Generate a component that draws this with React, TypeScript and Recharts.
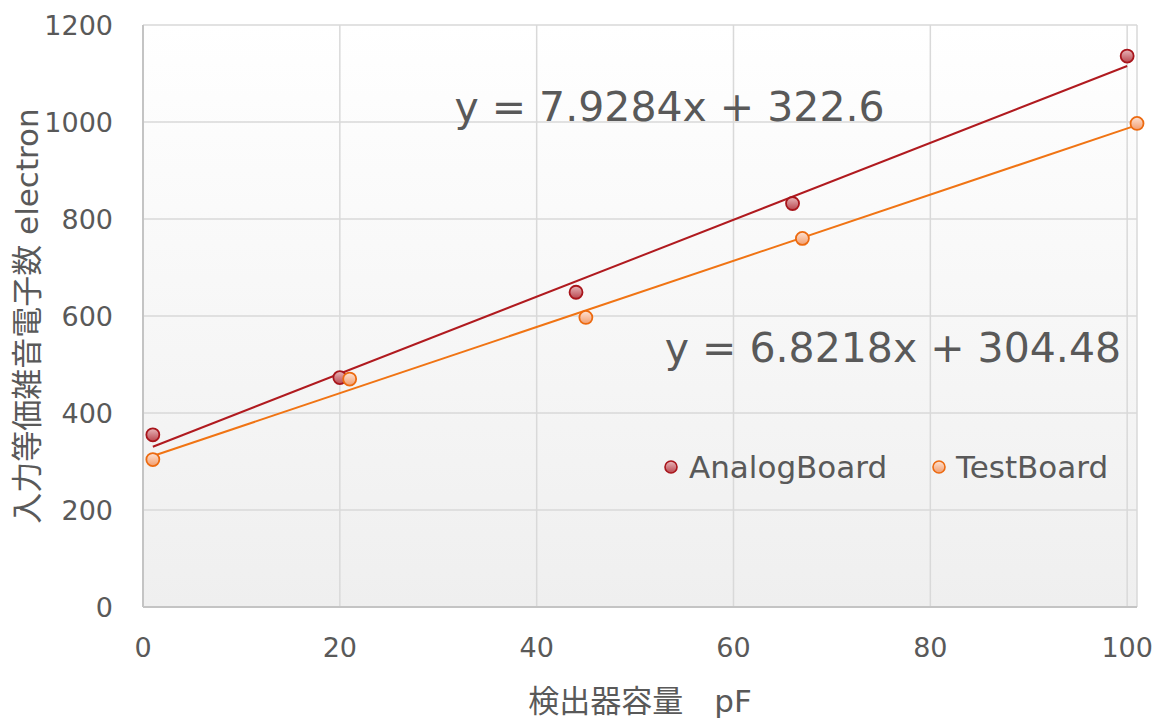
import React from 'react';
import {
  ScatterChart,
  Scatter,
  XAxis,
  YAxis,
  CartesianGrid,
  ReferenceLine,
  ReferenceDot,
  Legend,
  Label,
} from 'recharts';

// ---- data ----
const analogX = [1, 20, 44, 66, 100];
const analogY = [355, 473, 649, 832, 1136];
const testX = [1, 21, 45, 67, 101];
const testY = [304, 470, 597, 760, 997];

const xTicks = [0, 20, 40, 60, 80, 100];
const yTicks = [0, 200, 400, 600, 800, 1000, 1200];

// trendline coefficients shown on the chart
const analogSlope = 7.9284;
const analogIntercept = 322.6;
const testSlope = 6.8218;
const testIntercept = 304.48;

const analogName = 'AnalogBoard';
const testName = 'TestBoard';
const analogEq = 'y = 7.9284x + 322.6';
const testEq = 'y = 6.8218x + 304.48';
const xTitle = '検出器容量　pF';
const yTitle = '入力等価雑音電子数 electron';

const FONT = "'DejaVu Sans', 'Noto Sans CJK JP', sans-serif";
const TEXT = '#595959';
const RED = '#A8151B';
const RED_LINE = '#B01A1F';
const ORANGE = '#EC6A10';
const ORANGE_LINE = '#F07414';

const analogData = analogX.map((x, i) => ({ x, y: analogY[i] }));
const testData = testX.map((x, i) => ({ x, y: testY[i] }));

const fitEnds = (xs: number[], slope: number, intercept: number) => {
  const x0 = Math.min(...xs);
  const x1 = Math.max(...xs);
  return [
    { x: x0, y: slope * x0 + intercept },
    { x: x1, y: slope * x1 + intercept },
  ];
};

const AnalogDot = (props: any) => (
  <circle cx={props.cx} cy={props.cy} r={6.5} fill="url(#gradAnalog)" stroke={RED} strokeWidth={1.8} />
);
const TestDot = (props: any) => (
  <circle cx={props.cx} cy={props.cy} r={6.5} fill="url(#gradTest)" stroke={ORANGE} strokeWidth={1.8} />
);

const LegendContent = () => (
  <div style={{ display: 'flex', alignItems: 'center', height: 34, fontFamily: FONT, fontSize: 31, color: TEXT }}>
    <div style={{ display: 'flex', alignItems: 'center', width: 268 }}>
      <svg width={18} height={18}>
        <defs>
          <linearGradient id="lgA" x1="0" y1="0" x2="0" y2="1">
            <stop offset="0%" stopColor="#E8B8BB" />
            <stop offset="100%" stopColor="#B9464E" />
          </linearGradient>
        </defs>
        <circle cx={9} cy={9} r={6} fill="url(#lgA)" stroke={RED} strokeWidth={1.6} />
      </svg>
      <span style={{ marginLeft: 9, whiteSpace: 'nowrap' }}>{analogName}</span>
    </div>
    <div style={{ display: 'flex', alignItems: 'center' }}>
      <svg width={18} height={18}>
        <defs>
          <linearGradient id="lgT" x1="0" y1="0" x2="0" y2="1">
            <stop offset="0%" stopColor="#FDE3D5" />
            <stop offset="100%" stopColor="#F29C6C" />
          </linearGradient>
        </defs>
        <circle cx={9} cy={9} r={6} fill="url(#lgT)" stroke={ORANGE} strokeWidth={1.6} />
      </svg>
      <span style={{ marginLeft: 8, whiteSpace: 'nowrap' }}>{testName}</span>
    </div>
  </div>
);

const YTitle = () => (
  <text
    x={27}
    y={316}
    transform="rotate(-90 27 316)"
    textAnchor="middle"
    dominantBaseline="central"
    fontFamily={FONT}
    fontSize={31}
    fill={TEXT}
  >
    {yTitle}
  </text>
);

export default function App() {
  return (
    <div style={{ position: 'absolute', left: 0, top: 0, width: 1157, height: 720, background: '#fff' }}>
      <ScatterChart width={1157} height={720} margin={{ top: 25, right: 20, bottom: 0, left: 0 }}>
        <defs>
          <linearGradient id="plotBg" x1="0" y1="0" x2="0" y2="1">
            <stop offset="0%" stopColor="#FFFFFF" />
            <stop offset="100%" stopColor="#EFEFEF" />
          </linearGradient>
          <linearGradient id="gradAnalog" x1="0" y1="0" x2="0" y2="1">
            <stop offset="0%" stopColor="#E8B8BB" />
            <stop offset="100%" stopColor="#B9464E" />
          </linearGradient>
          <linearGradient id="gradTest" x1="0" y1="0" x2="0" y2="1">
            <stop offset="0%" stopColor="#FDE3D5" />
            <stop offset="100%" stopColor="#F29C6C" />
          </linearGradient>
        </defs>
        <CartesianGrid stroke="#D9D9D9" strokeWidth={1.5} fill="url(#plotBg)" fillOpacity={1} />
        <XAxis
          type="number"
          dataKey="x"
          domain={[0, 101]}
          ticks={xTicks}
          height={113}
          tickSize={0}
          tickMargin={31}
          tickLine={false}
          axisLine={{ stroke: '#C4C4C4', strokeWidth: 2 }}
          tick={{ fill: TEXT, fontSize: 27, fontFamily: FONT }}
        >
          <Label value={xTitle} position="insideBottom" offset={8} fill={TEXT} fontSize={31} fontFamily={FONT} />
        </XAxis>
        <YAxis
          type="number"
          dataKey="y"
          domain={[0, 1200]}
          ticks={yTicks}
          width={143}
          tickSize={0}
          tickMargin={30}
          tickLine={false}
          axisLine={{ stroke: '#C4C4C4', strokeWidth: 2 }}
          tick={{ fill: TEXT, fontSize: 27, fontFamily: FONT }}
        >
          <Label content={<YTitle />} />
        </YAxis>
        <Scatter name={analogName} data={analogData} shape={<AnalogDot />} isAnimationActive={false} />
        <Scatter name={testName} data={testData} shape={<TestDot />} isAnimationActive={false} />
        <ReferenceLine
          segment={fitEnds(analogX, analogSlope, analogIntercept)}
          stroke={RED_LINE}
          strokeWidth={2}
        />
        <ReferenceLine
          segment={fitEnds(testX, testSlope, testIntercept)}
          stroke={ORANGE_LINE}
          strokeWidth={2}
        />
        <ReferenceDot
          x={53.5}
          y={1033}
          r={0}
          fill="none"
          stroke="none"
          label={{ value: analogEq, position: 'center', fill: TEXT, fontSize: 41, fontFamily: FONT }}
        />
        <ReferenceDot
          x={76.2}
          y={535}
          r={0}
          fill="none"
          stroke="none"
          label={{ value: testEq, position: 'center', fill: TEXT, fontSize: 41, fontFamily: FONT }}
        />
        <Legend
          layout="horizontal"
          verticalAlign="middle"
          align="center"
          width={480}
          height={34}
          wrapperStyle={{ left: 662, top: 450 }}
          content={<LegendContent />}
        />
      </ScatterChart>
    </div>
  );
}
